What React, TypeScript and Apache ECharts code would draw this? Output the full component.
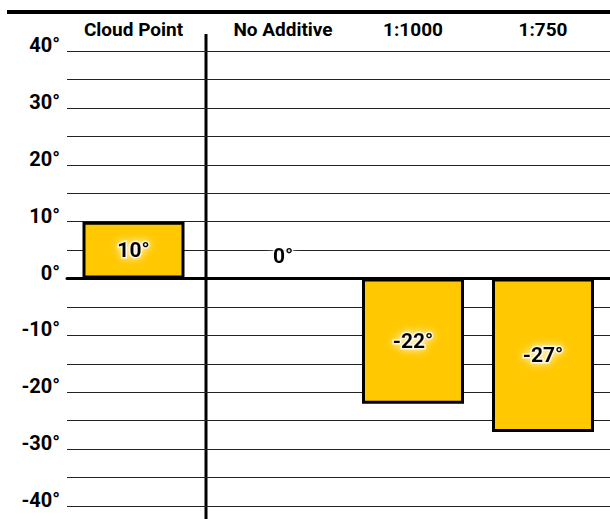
import React, { useEffect, useRef } from "react";
import * as echarts from "echarts";

const categories = ["Cloud Point", "No Additive", "1:1000", "1:750"];
const values = [10, 0, -22, -27];
const yMin = -40;
const yMax = 40;

const FONT = "'Liberation Sans Narrow', Roboto, sans-serif";

export default function App() {
  const ref = useRef<HTMLDivElement>(null);

  useEffect(() => {
    document.body.style.margin = "0";
    const chart = echarts.init(ref.current!, null, { renderer: "svg" });

    const barLabel = {
      show: true,
      position: "inside",
      formatter: (p: any) => `${p.value}°`,
      color: "#000",
      fontFamily: FONT,
      fontWeight: "bold",
      fontSize: 21,
      textBorderColor: "rgba(255,255,255,0.75)",
      textBorderWidth: 3,
      textShadowColor: "#fff",
      textShadowBlur: 8,
    };
    const barItem = { color: "#FFC800", borderColor: "#000", borderWidth: 3 };
    const catLabel = {
      interval: 0,
      margin: 12,
      color: "#000",
      fontFamily: FONT,
      fontWeight: "bold",
      fontSize: 19,
    };
    const toItem = (v: number) =>
      v === 0 ? { value: v, label: { position: "top", distance: 11 } } : v;

    const hiddenY = (i: number) => ({
      gridIndex: i,
      type: "value",
      min: yMin,
      max: yMax,
      show: false,
      splitLine: { show: false },
    });

    chart.setOption({
      animation: false,
      backgroundColor: "#fff",
      grid: [
        { left: 67, right: 0, top: 51, height: 455 },
        { left: 67, width: 133, top: 51, height: 455 },
        { left: 218, width: 390, top: 51, height: 455 },
      ],
      xAxis: [
        {
          gridIndex: 0,
          type: "value",
          min: 0,
          max: 1,
          axisLine: { show: true, onZero: true, lineStyle: { color: "#000", width: 3 } },
          axisTick: { show: false },
          axisLabel: { show: false },
          splitLine: { show: false },
        },
        {
          gridIndex: 1,
          type: "category",
          position: "top",
          data: categories.slice(0, 1),
          axisLine: { show: false, onZero: false },
          axisTick: { show: false },
          axisLabel: catLabel,
        },
        {
          gridIndex: 2,
          type: "category",
          position: "top",
          data: categories.slice(1),
          axisLine: { show: false, onZero: false },
          axisTick: { show: false },
          axisLabel: catLabel,
        },
      ],
      yAxis: [
        {
          gridIndex: 0,
          type: "value",
          min: yMin,
          max: yMax,
          interval: 5,
          axisLine: { show: false },
          axisTick: { show: false },
          axisLabel: {
            formatter: (v: number) => (v % 10 === 0 ? `${v}°` : ""),
            margin: 7,
            color: "#000",
            fontFamily: FONT,
            fontWeight: "bold",
            fontSize: 20,
            verticalAlign: "bottom",
            lineHeight: 12,
          },
          splitLine: { show: true, lineStyle: { color: "#222", width: 1 } },
        },
        hiddenY(1),
        hiddenY(2),
      ],
      series: [
        {
          type: "bar",
          xAxisIndex: 1,
          yAxisIndex: 1,
          data: values.slice(0, 1).map(toItem),
          barWidth: 102,
          itemStyle: barItem,
          label: barLabel,
        },
        {
          type: "bar",
          xAxisIndex: 2,
          yAxisIndex: 2,
          data: values.slice(1).map(toItem),
          barWidth: 102,
          itemStyle: barItem,
          label: barLabel,
        },
      ],
      graphic: [
        {
          type: "line",
          shape: { x1: 7, y1: 12, x2: 610, y2: 12 },
          style: { stroke: "#000", lineWidth: 4 },
        },
        {
          type: "line",
          shape: { x1: 206, y1: 34, x2: 206, y2: 519 },
          style: { stroke: "#000", lineWidth: 3 },
        },
      ],
    });

    return () => chart.dispose();
  }, []);

  return <div ref={ref} style={{ width: 610, height: 519 }} />;
}
